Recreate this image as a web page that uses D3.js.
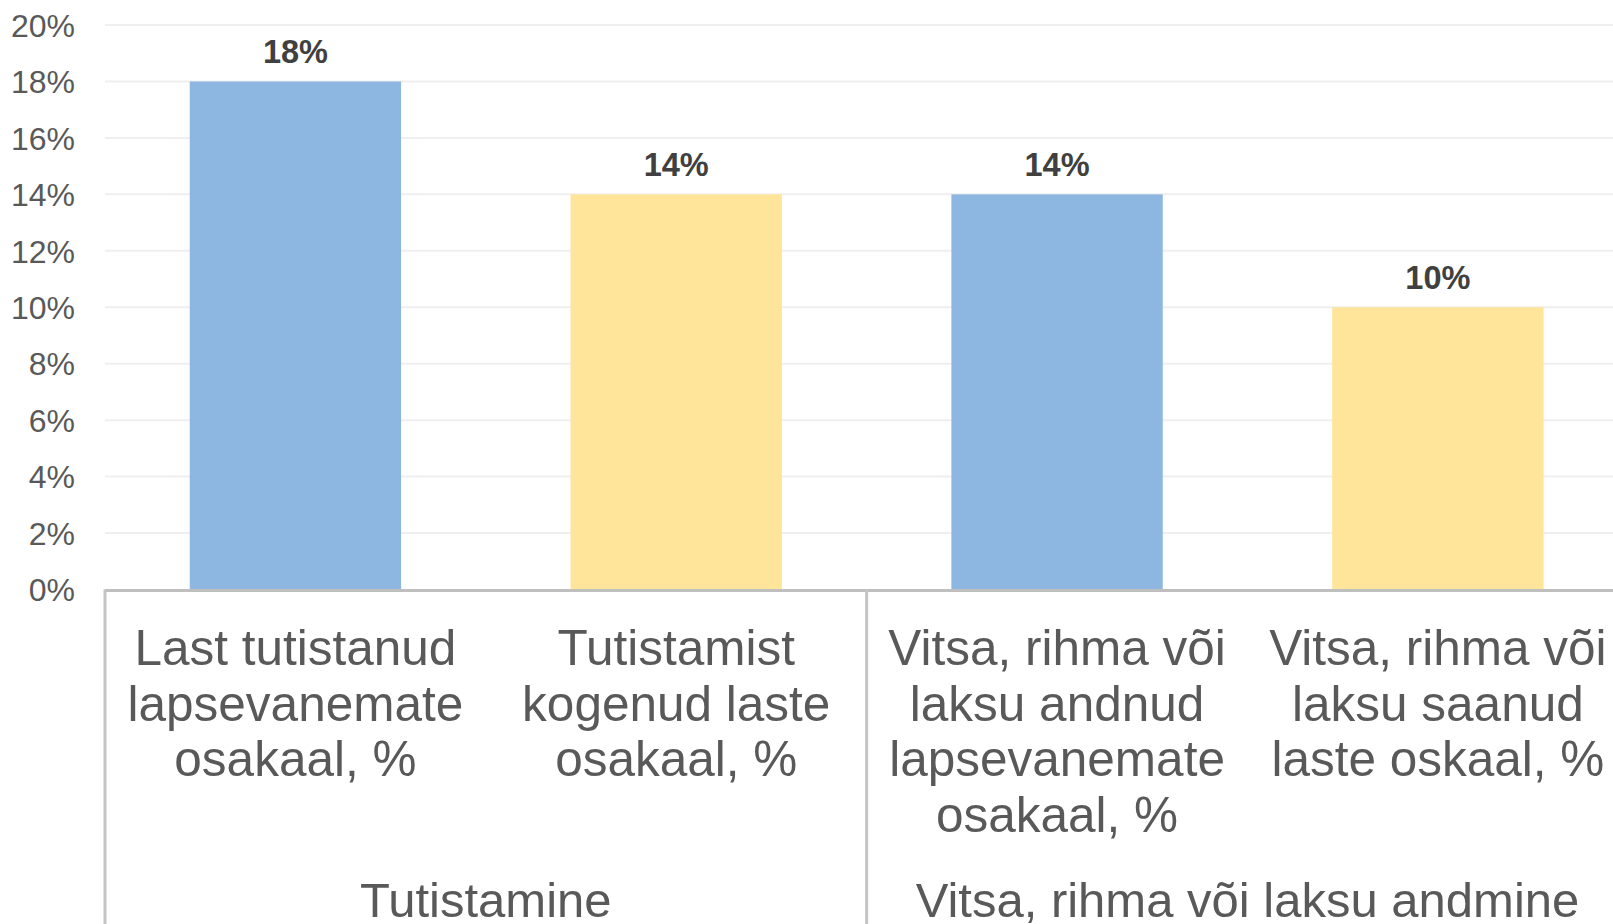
<!DOCTYPE html>
<html>
<head>
<meta charset="utf-8">
<script src="https://cdn.jsdelivr.net/npm/d3@7"></script>
<style>
  html, body { margin: 0; padding: 0; background: #ffffff; }
  svg { display: block; font-family: "Liberation Sans", Arial, sans-serif; }
</style>
</head>
<body>
<svg id="chart" width="1613" height="924"></svg>
<script>
// ---- data ----
const categories = [
  ["Last tutistanud", "lapsevanemate", "osakaal, %"],
  ["Tutistamist", "kogenud laste", "osakaal, %"],
  ["Vitsa, rihma või", "laksu andnud", "lapsevanemate", "osakaal, %"],
  ["Vitsa, rihma või", "laksu saanud", "laste oskaal, %"]
];
const values = [18, 14, 14, 10];
const barKinds = ["parents", "children", "parents", "children"];
const groups = ["Tutistamine", "Vitsa, rihma või laksu andmine"];
const groupSizes = [2, 2];
const yTicks = [0, 2, 4, 6, 8, 10, 12, 14, 16, 18, 20];

(function () {
// ---- layout ----
const W = 1613, H = 924;
const plotLeft = 105, plotRight = 1628.3, plotTop = 25, base = 589.5;
const svg = d3.select("#chart");

const x = d3.scaleBand()
  .domain(d3.range(values.length))
  .range([plotLeft, plotRight])
  .paddingInner(0.445)
  .paddingOuter(0.2225);
const y = d3.scaleLinear().domain([0, 20]).range([base, plotTop]);
const color = d3.scaleOrdinal().domain(["parents", "children"]).range(["#8db7e1", "#fee599"]);

// gridlines
svg.append("g").selectAll("line")
  .data(yTicks.filter(t => t > 0))
  .join("line")
  .attr("x1", plotLeft).attr("x2", W)
  .attr("y1", d => y(d)).attr("y2", d => y(d))
  .attr("stroke", "#efefef").attr("stroke-width", 2);

// y axis labels
const yAxis = d3.axisLeft(y).tickValues(yTicks).tickFormat(d => d + "%").tickSize(0).tickPadding(0);
const ya = svg.append("g").attr("transform", `translate(${plotLeft - 30},0)`).call(yAxis);
ya.select(".domain").remove();
ya.selectAll("text")
  .attr("fill", "#595959")
  .style("font-size", "32px")
  .style("font-family", "'Liberation Sans', Arial, sans-serif")
  .attr("dy", "0.35em");

// bars
svg.append("g").selectAll("rect")
  .data(values)
  .join("rect")
  .attr("x", (d, i) => x(i))
  .attr("width", x.bandwidth())
  .attr("y", d => y(d))
  .attr("height", d => base - y(d))
  .attr("fill", (d, i) => color(barKinds[i]));

// value labels
svg.append("g").selectAll("text")
  .data(values)
  .join("text")
  .attr("x", (d, i) => x(i) + x.bandwidth() / 2)
  .attr("y", d => y(d) - 18)
  .attr("text-anchor", "middle")
  .attr("fill", "#404040")
  .style("font-size", "32.5px")
  .style("font-weight", "bold")
  .text(d => d + "%");

// baseline
svg.append("line")
  .attr("x1", plotLeft).attr("x2", W)
  .attr("y1", base + 1).attr("y2", base + 1)
  .attr("stroke", "#bfbfbf").attr("stroke-width", 3);

// group separator lines
const boundaries = [0];
groupSizes.reduce((acc, n) => { boundaries.push(acc + n); return acc + n; }, 0);
const step = x.step();
const bx = k => plotLeft + k * step;
svg.append("g").selectAll("line")
  .data(boundaries.filter(k => bx(k) < W))
  .join("line")
  .attr("x1", k => bx(k)).attr("x2", k => bx(k))
  .attr("y1", base).attr("y2", H)
  .attr("stroke", "#c4c4c4").attr("stroke-width", 3);

// category labels
const catG = svg.append("g");
categories.forEach((lines, i) => {
  const cx = x(i) + x.bandwidth() / 2;
  const t = catG.append("text")
    .attr("x", cx)
    .attr("y", 665)
    .attr("text-anchor", "middle")
    .attr("fill", "#595959")
    .style("font-size", "49.5px");
  lines.forEach((ln, j) => {
    t.append("tspan").attr("x", cx).attr("y", 665 + j * 55.5).text(ln);
  });
});

// group labels
svg.append("g").selectAll("text")
  .data(groups)
  .join("text")
  .attr("x", (d, i) => (bx(boundaries[i]) + bx(boundaries[i + 1])) / 2)
  .attr("y", 917)
  .attr("text-anchor", "middle")
  .attr("fill", "#595959")
  .style("font-size", "49px")
  .text(d => d);
})();
</script>
</body>
</html>
